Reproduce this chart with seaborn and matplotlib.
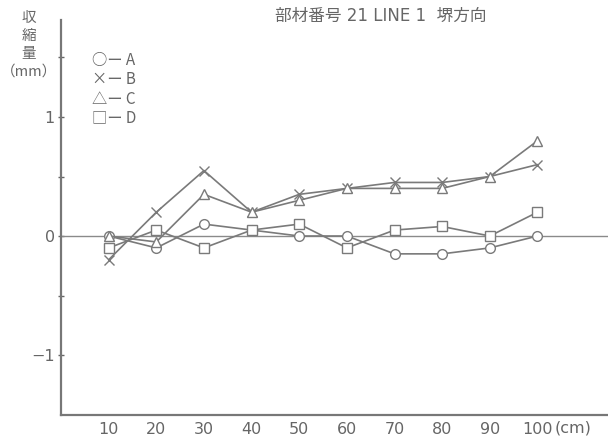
import matplotlib
matplotlib.use("Agg")
import matplotlib.pyplot as plt
import seaborn as sns
import pandas as pd

# Shrinkage measured along the member (cm) for four gauge lines
positions = [10, 20, 30, 40, 50, 60, 70, 80, 90, 100]
series_a = [0.0, -0.10, 0.10, 0.05, 0.0, 0.0, -0.15, -0.15, -0.10, 0.0]
series_b = [-0.20, 0.20, 0.55, 0.20, 0.35, 0.40, 0.45, 0.45, 0.50, 0.60]
series_c = [0.0, -0.05, 0.35, 0.20, 0.30, 0.40, 0.40, 0.40, 0.50, 0.80]
series_d = [-0.10, 0.05, -0.10, 0.05, 0.10, -0.10, 0.05, 0.08, 0.0, 0.20]
series_names = ["A", "B", "C", "D"]
x_tick_labels = ["10", "20", "30", "40", "50", "60", "70", "80", "90", "100"]
x_unit = "(cm)"
y_tick_values = [-1, 0, 1]
y_tick_labels = ["−1", "0", "1"]
title_text = "部材番号 21 LINE 1  堺方向"
y_label_lines = ["収", "縮", "量", "（mm）"]
legend_lines = ["○ー A", "×ー B", "△ー C", "□ー D"]

df = pd.DataFrame({
    "pos": positions * 4,
    "val": series_a + series_b + series_c + series_d,
    "series": sum([[n] * len(positions) for n in series_names], []),
})

sns.set_theme(style="white")
plt.rcParams["font.family"] = ["Noto Sans CJK JP", "DejaVu Sans"]
latin_first = ["DejaVu Sans", "Noto Sans CJK JP"]

ink = "#666666"
line_col = "#7a7a7a"

fig = plt.figure(figsize=(6.08, 4.42), dpi=100)
ax = fig.add_axes([61 / 608, 27 / 442, 547 / 608, 395 / 442])

# zero reference line
ax.axhline(0, color="#8a8a8a", lw=1.0, zorder=1)

markers = {"A": "o", "B": "x", "C": "^", "D": "s"}
sizes = {"A": 7, "B": 7, "C": 7.5, "D": 7}
for name in series_names:
    sub = df[df["series"] == name]
    sns.lineplot(data=sub, x="pos", y="val", ax=ax, color=line_col,
                 lw=1.2, marker=markers[name], markersize=sizes[name],
                 markerfacecolor="white", markeredgecolor=line_col,
                 markeredgewidth=1.0, legend=False, zorder=3)

ax.set_xlim(0, 114.8)
ax.set_ylim(-1.504, 1.815)

ax.set_xticks(positions)
ax.set_xticklabels(x_tick_labels, fontsize=11.5, color=ink, family=latin_first)
ax.set_yticks(y_tick_values)
ax.set_yticklabels(y_tick_labels, fontsize=11.5, color=ink, family=latin_first)
ax.set_yticks([-0.5, 0.5, 1.5], minor=True)
ax.tick_params(axis="x", direction="in", length=3, width=1, color=ink, pad=5)
ax.tick_params(axis="y", which="both", direction="inout", length=5,
               width=1, color=ink, pad=2, left=True)
ax.set_xlabel("")
ax.set_ylabel("")

# unit written right after the last tick label
ax.annotate(x_unit, xy=(positions[-1], 0), xycoords=("data", "axes fraction"),
            xytext=(12.5, -9.3), textcoords="offset points",
            ha="left", va="center", fontsize=11.5, color=ink,
            family=latin_first)

for side in ["top", "right"]:
    ax.spines[side].set_visible(False)
for side in ["left", "bottom"]:
    ax.spines[side].set_color("#777777")
    ax.spines[side].set_linewidth(1.6)

# title
fig.text(381 / 608, 1 - 16 / 442, title_text, ha="center", va="center",
         fontsize=12, color=ink, family=latin_first)

# stacked vertical axis label
for i, t in enumerate(y_label_lines):
    fig.text(29 / 608, 1 - (18 + 18 * i) / 442, t, ha="center", va="center",
             fontsize=10.5, color=ink)

# legend written as marker-dash-letter lines
for i, t in enumerate(legend_lines):
    fig.text(92 / 608, 1 - (61 + 19 * i) / 442, t, ha="left", va="center",
             fontsize=11, color=ink)

fig.savefig("out.png", dpi=100, facecolor="white")
